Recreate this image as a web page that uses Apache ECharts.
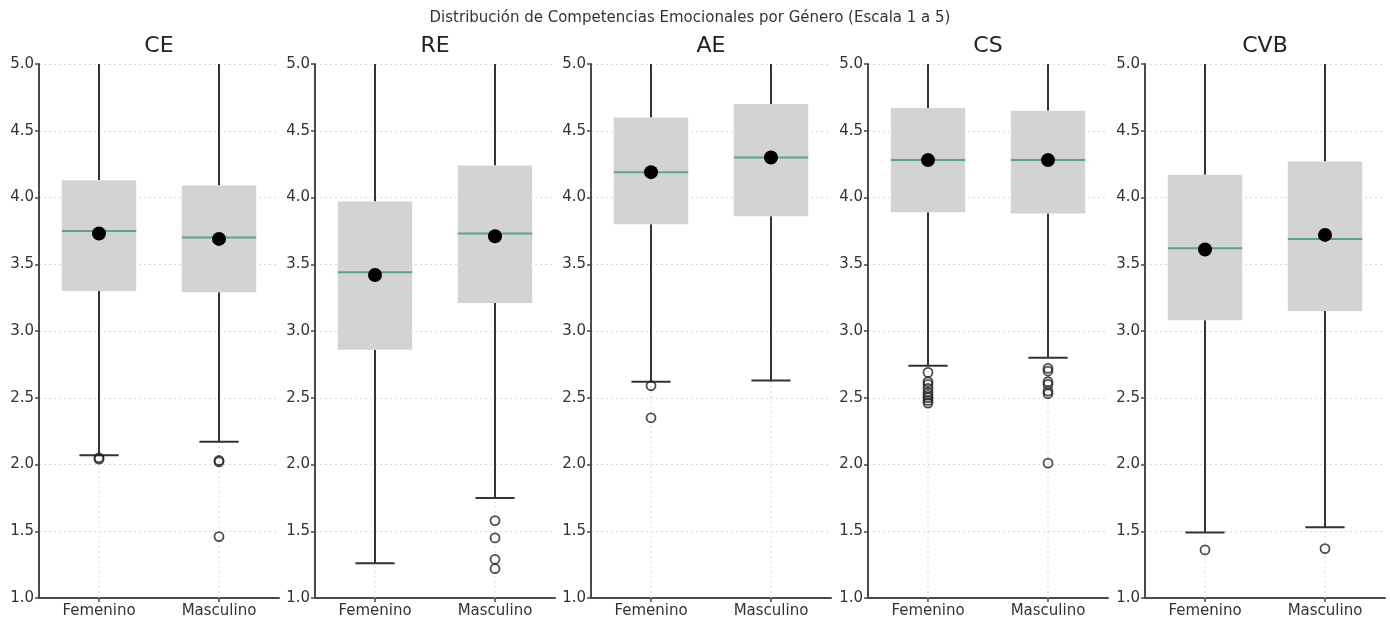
<!DOCTYPE html>
<html>
<head>
<meta charset="utf-8">
<script src="https://cdn.jsdelivr.net/npm/echarts@6/dist/echarts.min.js"></script>
<style>
  html, body { margin: 0; padding: 0; background: #fff; }
  #main { width: 1390px; height: 621px; }
</style>
</head>
<body>
<div id="main"></div>
<script>
// datos
let panels = ['CE', 'RE', 'AE', 'CS', 'CVB'];
let generos = ['Femenino', 'Masculino'];

// [bigote inferior, Q1, mediana, Q3, bigote superior] por panel: [Femenino, Masculino]
let cajasCE  = [[2.07, 3.30, 3.75, 4.13, 5.0], [2.17, 3.29, 3.70, 4.09, 5.0]];
let cajasRE  = [[1.26, 2.86, 3.44, 3.97, 5.0], [1.75, 3.21, 3.73, 4.24, 5.0]];
let cajasAE  = [[2.62, 3.80, 4.19, 4.60, 5.0], [2.63, 3.86, 4.30, 4.70, 5.0]];
let cajasCS  = [[2.74, 3.89, 4.28, 4.67, 5.0], [2.80, 3.88, 4.28, 4.65, 5.0]];
let cajasCVB = [[1.49, 3.08, 3.62, 4.17, 5.0], [1.53, 3.15, 3.69, 4.27, 5.0]];

// medias [Femenino, Masculino]
let mediasCE  = [3.73, 3.69];
let mediasRE  = [3.42, 3.71];
let mediasAE  = [4.19, 4.30];
let mediasCS  = [4.28, 4.28];
let mediasCVB = [3.61, 3.72];

// atipicos [Femenino[], Masculino[]]
let atipCE  = [[2.05, 2.04], [2.03, 2.02, 1.46]];
let atipRE  = [[], [1.58, 1.45, 1.29, 1.22]];
let atipAE  = [[2.59, 2.35], []];
let atipCS  = [[2.69, 2.62, 2.60, 2.57, 2.54, 2.52, 2.50, 2.48, 2.46], [2.72, 2.70, 2.62, 2.60, 2.55, 2.53, 2.01]];
let atipCVB = [[1.36], [1.37]];

let cajas = [cajasCE, cajasRE, cajasAE, cajasCS, cajasCVB];
let medias = [mediasCE, mediasRE, mediasAE, mediasCS, mediasCVB];
let atipicos = [atipCE, atipRE, atipAE, atipCS, atipCVB];

let lefts = [39, 315, 591, 868, 1145];
let anchoGrid = 240;
let colorEje = '#4a4a4a';
let fuente = 'DejaVu Sans';

function renderCaja(params, api) {
  let x = api.value(0);
  let lo = api.value(1), q1 = api.value(2), med = api.value(3), q3 = api.value(4), hi = api.value(5);
  let band = api.size([1, 0])[0];
  let bw = band * 0.62;
  let cw = bw / 2;
  let pLo = api.coord([x, lo]);
  let pQ1 = api.coord([x, q1]);
  let pMed = api.coord([x, med]);
  let pQ3 = api.coord([x, q3]);
  let pHi = api.coord([x, hi]);
  let pBot = api.coord([x, 1]);
  let cx = pMed[0];
  let lineStyle = { stroke: '#333', lineWidth: 2 };
  return {
    type: 'group',
    children: [
      // linea de rejilla vertical
      { type: 'line', shape: { x1: cx, y1: pBot[1], x2: cx, y2: pHi[1] },
        style: { stroke: '#d8d8d8', lineWidth: 1, lineDash: [2, 3] } },
      // bigotes
      { type: 'line', shape: { x1: cx, y1: pHi[1], x2: cx, y2: pQ3[1] }, style: lineStyle },
      { type: 'line', shape: { x1: cx, y1: pQ1[1], x2: cx, y2: pLo[1] }, style: lineStyle },
      { type: 'line', shape: { x1: cx - cw / 2 - 1, y1: pLo[1], x2: cx + cw / 2 + 1, y2: pLo[1] }, style: lineStyle },
      // caja
      { type: 'rect', shape: { x: cx - bw / 2, y: pQ3[1], width: bw, height: pQ1[1] - pQ3[1] },
        style: { fill: '#d3d3d3' } },
      // mediana
      { type: 'line', shape: { x1: cx - bw / 2, y1: pMed[1], x2: cx + bw / 2, y2: pMed[1] },
        style: { stroke: '#5aa58a', lineWidth: 2 } }
    ]
  };
}

let grids = [], xAxes = [], yAxes = [], series = [], textos = [];

textos.push({
  type: 'text', x: 690, y: 18,
  style: { text: 'Distribución de Competencias Emocionales por Género (Escala 1 a 5)',
    fontFamily: fuente, fontSize: 15, fill: '#333', align: 'center', verticalAlign: 'middle' }
});

for (let i = 0; i < panels.length; i++) {
  grids.push({ left: lefts[i], top: 64, width: anchoGrid, height: 534 });
  textos.push({
    type: 'text', x: lefts[i] + anchoGrid / 2, y: 46,
    style: { text: panels[i], fontFamily: fuente, fontSize: 22, fill: '#222',
      align: 'center', verticalAlign: 'middle' }
  });
  xAxes.push({
    type: 'category', gridIndex: i, data: generos, boundaryGap: true,
    axisLine: { show: true, lineStyle: { color: colorEje, width: 2 } },
    axisTick: { show: true, alignWithLabel: true, length: 4, lineStyle: { color: colorEje, width: 1.5 } },
    axisLabel: { fontFamily: fuente, fontSize: 15, color: '#333', margin: 6 },
    splitLine: { show: false }
  });
  yAxes.push({
    type: 'value', gridIndex: i, min: 1, max: 5, interval: 0.5,
    axisLine: { show: true, lineStyle: { color: colorEje, width: 2 } },
    axisTick: { show: true, length: 4, lineStyle: { color: colorEje, width: 1.5 } },
    axisLabel: { fontFamily: fuente, fontSize: 15, color: '#333', margin: 5,
      formatter: function (v) { return v.toFixed(1); } },
    splitLine: { show: true, lineStyle: { color: '#d8d8d8', type: [2, 3] } }
  });

  let datosCaja = cajas[i].map(function (c, k) { return [k].concat(c); });
  series.push({
    type: 'custom', xAxisIndex: i, yAxisIndex: i, renderItem: renderCaja,
    data: datosCaja, z: 2, silent: true
  });

  let datosAtip = [];
  atipicos[i].forEach(function (lista, k) {
    lista.forEach(function (v) { datosAtip.push([k, v]); });
  });
  series.push({
    type: 'scatter', xAxisIndex: i, yAxisIndex: i, data: datosAtip,
    symbol: 'circle', symbolSize: 9, z: 3, silent: true,
    itemStyle: { color: 'rgba(255,255,255,0)', borderColor: '#222', borderWidth: 1.8 }
  });

  series.push({
    type: 'scatter', xAxisIndex: i, yAxisIndex: i,
    data: medias[i].map(function (v, k) { return [k, v]; }),
    symbol: 'circle', symbolSize: 14, z: 4, silent: true,
    itemStyle: { color: '#000', opacity: 1 }
  });
}

let chart = echarts.init(document.getElementById('main'));
chart.setOption({
  animation: false,
  backgroundColor: '#fff',
  graphic: textos,
  grid: grids,
  xAxis: xAxes,
  yAxis: yAxes,
  series: series
});
</script>
</body>
</html>
